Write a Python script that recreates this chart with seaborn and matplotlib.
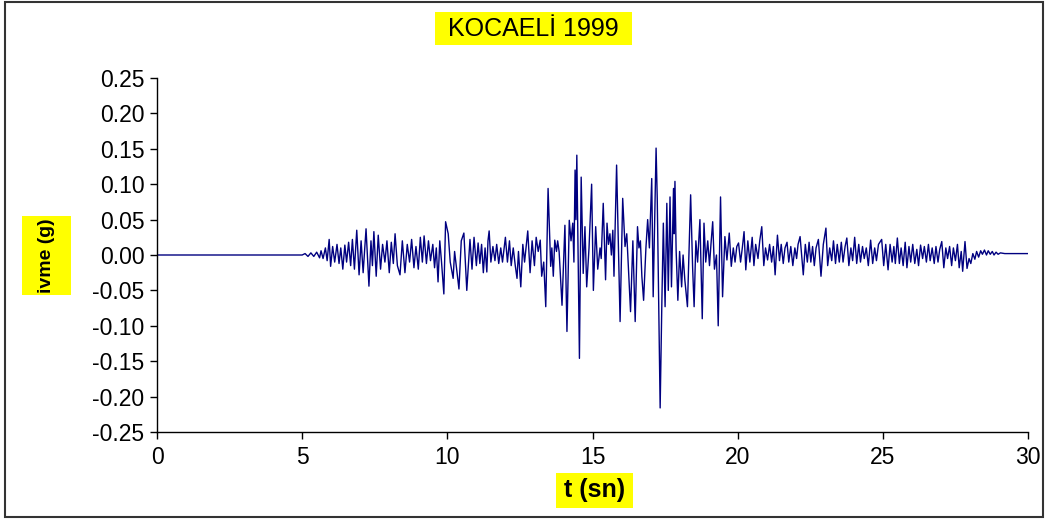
import numpy as np
import pandas as pd
import matplotlib; matplotlib.use('Agg')
import matplotlib.pyplot as plt
from matplotlib.patches import Rectangle
import seaborn as sns

# ─────────────────────────────────────────────────────────────
# Kocaeli 1999 record — turning points (t [s], a [g])
# ─────────────────────────────────────────────────────────────
ONSET = [
    (0.0, 0.0), (5.0, 0.0), (5.1, 0.002), (5.2, -0.002), (5.3, 0.003), (5.4, -0.002),
    (5.5, 0.004), (5.6, -0.004), (5.65, 0.006), (5.72, -0.005), (5.8, 0.01), (5.86, -0.008),
    (5.93, 0.022), (5.98, -0.016), (6.05, 0.012), (6.12, -0.01), (6.2, 0.015), (6.27, -0.012),
    (6.33, 0.01), (6.4, -0.02), (6.47, 0.014), (6.53, -0.01), (6.6, 0.018), (6.67, -0.015),
    (6.73, 0.022), (6.8, -0.02), (6.88, 0.035), (6.96, -0.028), (7.03, 0.02), (7.1, -0.025),
    (7.2, 0.037), (7.3, -0.044), (7.37, 0.02), (7.42, -0.015), (7.47, 0.033), (7.55, -0.03),
    (7.62, 0.028), (7.7, -0.02), (7.77, 0.015), (7.85, -0.01), (7.92, 0.02), (8.0, -0.025),
    (8.07, 0.018), (8.14, -0.012), (8.2, 0.03), (8.28, -0.015), (8.37, -0.028), (8.45, 0.02),
    (8.54, -0.025), (8.62, 0.015), (8.7, -0.01), (8.77, 0.022), (8.85, -0.018), (8.92, 0.012),
    (9.0, -0.02), (9.07, 0.025), (9.14, -0.01), (9.2, 0.027), (9.28, -0.012), (9.35, 0.02),
    (9.42, -0.008), (9.5, 0.015), (9.56, -0.018), (9.62, 0.01), (9.68, -0.038), (9.74, 0.02),
    (9.8, -0.01), (9.88, -0.055), (9.94, 0.047),
]

STRONG = [
    (10.03, 0.03), (10.1, -0.01), (10.2, -0.033), (10.25, 0.005), (10.4, -0.048), (10.48, 0.02),
    (10.57, 0.031), (10.67, -0.05), (10.78, 0.022), (10.85, -0.02), (10.92, 0.025), (11.0, -0.015),
    (11.06, 0.017), (11.12, -0.012), (11.18, 0.015), (11.24, -0.025), (11.3, 0.01), (11.36, -0.024),
    (11.4, 0.02), (11.44, 0.034), (11.5, -0.01), (11.57, 0.012), (11.64, -0.008), (11.7, 0.015),
    (11.77, -0.012), (11.84, 0.01), (11.9, -0.01), (12.0, 0.025), (12.07, -0.01), (12.14, 0.02),
    (12.2, -0.015), (12.27, 0.01), (12.34, -0.015), (12.4, -0.033), (12.45, 0.005), (12.53, -0.045),
    (12.6, 0.015), (12.66, -0.01), (12.77, 0.034), (12.85, -0.025), (12.92, 0.02), (13.0, -0.015),
    (13.06, 0.025), (13.13, 0.005), (13.2, 0.021), (13.25, -0.03), (13.32, -0.01), (13.39, -0.073),
    (13.47, 0.094), (13.56, -0.016), (13.6, 0.01), (13.65, -0.03), (13.7, 0.021), (13.76, 0.005),
    (13.8, 0.02), (13.85, 0.005), (13.95, -0.071), (14.05, 0.042), (14.12, -0.108), (14.2, 0.049),
    (14.26, 0.02), (14.32, 0.045), (14.36, -0.01), (14.4, 0.12), (14.43, 0.05), (14.46, 0.141),
    (14.55, -0.146), (14.61, 0.11), (14.68, -0.026), (14.74, 0.04), (14.8, -0.045), (14.88, 0.01),
    (14.97, 0.1), (15.03, -0.05), (15.11, 0.04), (15.18, -0.02), (15.26, 0.01), (15.3, -0.005),
    (15.37, 0.073), (15.45, -0.035), (15.5, 0.045), (15.55, 0.015), (15.6, 0.03), (15.65, 0.0),
    (15.7, 0.035), (15.74, -0.03), (15.83, 0.127), (15.89, 0.015), (15.95, -0.094), (16.04, 0.08),
    (16.12, 0.012), (16.18, 0.03), (16.24, -0.02), (16.31, -0.08), (16.39, 0.02), (16.47, -0.094),
    (16.55, 0.04), (16.6, 0.01), (16.65, 0.02), (16.7, -0.03), (16.76, -0.064), (16.84, 0.01),
    (16.9, 0.05), (16.96, 0.01), (17.04, 0.108), (17.09, -0.059), (17.19, 0.151), (17.23, 0.08),
    (17.33, -0.216), (17.39, -0.064), (17.44, 0.045), (17.5, -0.073), (17.56, 0.073), (17.61, -0.05),
    (17.67, 0.082), (17.72, -0.045), (17.79, 0.094), (17.81, 0.03), (17.84, 0.104), (17.88, 0.007),
    (17.94, -0.064), (18.0, 0.005), (18.07, -0.045), (18.12, 0.0), (18.18, -0.035), (18.27, -0.073),
    (18.38, 0.085), (18.45, -0.02), (18.5, -0.073), (18.56, 0.02), (18.62, -0.01), (18.7, 0.05),
    (18.78, -0.09), (18.84, 0.045), (18.9, -0.01), (18.97, 0.02), (19.03, -0.015), (19.08, 0.015),
    (19.14, 0.047), (19.2, -0.02), (19.27, 0.0), (19.33, -0.1), (19.41, 0.082), (19.48, -0.059),
    (19.56, 0.026), (19.63, -0.007), (19.71, 0.031), (19.78, -0.016), (19.85, 0.01), (19.91, -0.01),
    (19.97, 0.012),
]

CODA = [
    (20.03, 0.017), (20.1, -0.01), (20.16, 0.01), (20.22, 0.033), (20.28, -0.021), (20.35, 0.02),
    (20.42, -0.01), (20.5, 0.025), (20.56, -0.015), (20.62, 0.015), (20.7, -0.005), (20.76, 0.02),
    (20.83, 0.04), (20.9, -0.015), (20.96, 0.01), (21.03, -0.007), (21.1, 0.015), (21.17, -0.01),
    (21.23, 0.012), (21.29, -0.028), (21.37, 0.028), (21.44, -0.008), (21.5, 0.015), (21.57, -0.012),
    (21.63, 0.01), (21.7, 0.018), (21.76, -0.01), (21.83, 0.012), (21.9, -0.015), (21.97, 0.01),
    (22.03, -0.005), (22.08, 0.015), (22.15, 0.026), (22.26, -0.028), (22.33, 0.015), (22.4, -0.01),
    (22.46, 0.018), (22.52, -0.01), (22.58, 0.012), (22.64, -0.015), (22.7, 0.01), (22.78, 0.022),
    (22.87, -0.03), (22.95, 0.015), (23.04, 0.038), (23.1, -0.015), (23.17, 0.01), (23.24, -0.008),
    (23.3, 0.02), (23.37, -0.012), (23.43, 0.015), (23.5, -0.01), (23.57, 0.018), (23.63, -0.01),
    (23.7, 0.012), (23.76, 0.024), (23.83, -0.015), (23.9, 0.01), (23.96, -0.008), (24.03, 0.025),
    (24.1, -0.012), (24.17, 0.015), (24.23, -0.01), (24.3, 0.012), (24.36, -0.005), (24.43, 0.01),
    (24.5, -0.015), (24.58, 0.021), (24.65, -0.012), (24.72, 0.01), (24.78, -0.008), (24.85, 0.015),
    (24.96, 0.022), (25.03, -0.015), (25.1, 0.015), (25.18, -0.021), (25.25, 0.015), (25.32, -0.01),
    (25.38, 0.012), (25.43, -0.012), (25.5, 0.024), (25.57, -0.012), (25.63, 0.01), (25.7, -0.015),
    (25.77, 0.018), (25.83, -0.018), (25.9, 0.012), (25.96, -0.01), (26.03, 0.015), (26.1, -0.012),
    (26.17, 0.008), (26.23, -0.015), (26.3, 0.014), (26.37, -0.005), (26.43, 0.012), (26.5, -0.01),
    (26.57, 0.015), (26.63, -0.008), (26.7, 0.01), (26.77, -0.012), (26.83, 0.012), (26.9, -0.01),
    (26.96, 0.008), (27.03, 0.019), (27.1, -0.018), (27.17, 0.01), (27.23, -0.005), (27.3, 0.012),
    (27.37, -0.015), (27.43, 0.01), (27.5, -0.008), (27.57, 0.015), (27.63, -0.018), (27.7, 0.005),
    (27.75, -0.023), (27.83, 0.019), (27.9, -0.019), (27.97, -0.005), (28.03, -0.012), (28.1, 0.002),
    (28.17, -0.006), (28.23, 0.005), (28.3, -0.003), (28.37, 0.006), (28.43, 0.001), (28.5, 0.007),
    (28.57, 0.0), (28.63, 0.006), (28.7, 0.001), (28.77, 0.005), (28.83, 0.0), (28.9, 0.004),
    (28.97, 0.001), (29.05, 0.003), (29.2, 0.002), (30.0, 0.002),
]

Y_TICKS = [-0.25, -0.20, -0.15, -0.10, -0.05, 0.00, 0.05, 0.10, 0.15, 0.20, 0.25]
X_TICKS = [0, 5, 10, 15, 20, 25, 30]

TITLE  = 'KOCAELİ 1999'
XLABEL = 't (sn)'
YLABEL = 'ivme (g)'

df = pd.DataFrame(ONSET + STRONG + CODA, columns=['t', 'a'])

# ─────────────────────────────────────────────────────────────
# Style
# ─────────────────────────────────────────────────────────────
sns.set_style('white')
plt.rcParams['font.family'] = ['Liberation Sans', 'DejaVu Sans']
plt.rcParams['axes.unicode_minus'] = False

W, H = 1048, 521
LINE = '#000080'
YELLOW = '#ffff00'

fig = plt.figure(figsize=(W / 100, H / 100), dpi=100, facecolor='white')

def fig_box(x0, y0, x1, y1, **kw):
    # rectangle given in pixel coords (top-left origin)
    r = Rectangle((x0 / W, 1 - y1 / H), (x1 - x0) / W, (y1 - y0) / H,
                  transform=fig.transFigure, **kw)
    fig.add_artist(r)

ax = fig.add_axes([157 / W, 1 - 432 / H, (1028 - 157) / W, (432 - 78) / H])
sns.lineplot(data=df, x='t', y='a', ax=ax, color=LINE, lw=1.0,
             sort=False, estimator=None)

ax.set_xlim(0, 30)
ax.set_ylim(-0.25, 0.25)
ax.set_xticks(X_TICKS)
ax.set_yticks(Y_TICKS)
ax.set_yticklabels([f'{v:.2f}' for v in Y_TICKS])
ax.set_xlabel('')
ax.set_ylabel('')
for s in ['top', 'right']:
    ax.spines[s].set_visible(False)
for s in ['left', 'bottom']:
    ax.spines[s].set_color('black')
    ax.spines[s].set_linewidth(1.0)
ax.tick_params(axis='both', direction='out', length=5, width=1,
               color='black', labelsize=16.5, labelcolor='black',
               left=True, bottom=True)
ax.tick_params(axis='y', pad=4)
ax.tick_params(axis='x', pad=5)
ax.grid(False)

# outer frame
fig_box(5, 2, 1043, 517, facecolor='none', edgecolor='#333333', lw=1.5)

# yellow label boxes
fig_box(435, 12, 632, 45, facecolor=YELLOW, edgecolor='none')
fig.text(533.5 / W, 1 - 29 / H, TITLE, ha='center', va='center',
         fontsize=18, color='black')

fig_box(22, 216, 71, 295, facecolor=YELLOW, edgecolor='none')
fig.text(46.5 / W, 1 - 255.5 / H, YLABEL, ha='center', va='center',
         rotation=90, fontsize=14, fontweight='bold', color='black')

fig_box(556, 473, 633, 508, facecolor=YELLOW, edgecolor='none')
fig.text(594.5 / W, 1 - 490.5 / H, XLABEL, ha='center', va='center',
         fontsize=18, fontweight='bold', color='black')

fig.savefig('out.png', dpi=100, facecolor='white')
